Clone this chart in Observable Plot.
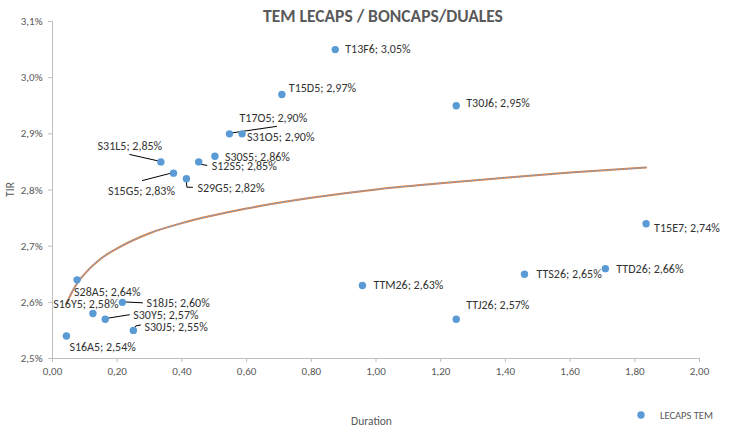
<!DOCTYPE html>
<html>
<head>
<meta charset="utf-8">
<script src="https://cdn.jsdelivr.net/npm/d3@7"></script>
<script src="https://cdn.jsdelivr.net/npm/@observablehq/plot@0.6"></script>
<style>
  html, body { margin: 0; padding: 0; background: #fff; }
  #chart svg { display: block; font-family: Carlito, Lato, "Liberation Sans", sans-serif; }
</style>
</head>
<body>
<div id="chart"></div>
<script>
// ---- data ----
const names = ["S16A5","S28A5","S16Y5","S30Y5","S18J5","S30J5","S31L5","S15G5","S29G5","S12S5","S30S5","T17O5","S31O5","T15D5","T13F6","TTM26","T30J6","TTJ26","TTS26","TTD26","T15E7"];
const durations = [0.043,0.076,0.125,0.163,0.216,0.250,0.335,0.374,0.414,0.452,0.502,0.547,0.586,0.709,0.874,0.958,1.248,1.248,1.459,1.709,1.835];
const tirs = [2.54,2.64,2.58,2.57,2.60,2.55,2.85,2.83,2.82,2.85,2.86,2.90,2.90,2.97,3.05,2.63,2.95,2.57,2.65,2.66,2.74];
// logarithmic trendline, values
const trendDur = [0.044,0.06,0.08,0.1,0.15,0.2,0.3,0.4,0.6,0.8,1.0,1.2,1.4,1.6,1.835];
const trendTir = [2.598,2.618,2.637,2.651,2.678,2.696,2.723,2.741,2.767,2.786,2.801,2.812,2.822,2.831,2.840];
const xTicks = [0,0.2,0.4,0.6,0.8,1.0,1.2,1.4,1.6,1.8,2.0];
const yTicks = [2.5,2.6,2.7,2.8,2.9,3.0,3.1];
const titleText = "TEM LECAPS / BONCAPS/DUALES";
const xLabel = "Duration";
const yLabel = "TIR";
const seriesName = "LECAPS TEM";

// ---- label layout (pixel offsets from each point) ----
const labelPlace = {
  T13F6:[10,0,"start"], T15D5:[7,-6,"start"], T30J6:[10,-3,"start"],
  T17O5:[10,-16,"start"], S31O5:[5,3,"start"], S30S5:[10,1,"start"],
  S12S5:[13,4,"start"], S31L5:[-31,-16,"middle"], S15G5:[-32,18,"middle"],
  S29G5:[11,9,"start"], S28A5:[-3,12,"start"], S16Y5:[-7,-9,"middle"],
  S18J5:[24,1,"start"], S30Y5:[28,-4,"start"], S30J5:[11,-3,"start"],
  S16A5:[3,11,"start"], TTM26:[11,0,"start"], TTJ26:[10,-14,"start"],
  TTS26:[12,0,"start"], TTD26:[11,1,"start"], T15E7:[8,4,"start"]
};
const leaders = {
  T17O5:[[0,0],[48,-7]], S12S5:[[0,0],[3,3],[9,4]], S31L5:[[0,0],[-31,-7]],
  S15G5:[[0,0],[-31,8]], S29G5:[[0,0],[1,9],[7,9]], S18J5:[[0,0],[21,1]],
  S30Y5:[[0,0],[25,-4]], S30J5:[[0,0],[3,-4],[8,-5]]
};

const rows = names.map((n,i) => ({name:n, d:durations[i], y:tirs[i]}));
const trend = trendDur.map((d,i) => ({d, y: trendTir[i]}));
const fmt2 = v => v.toFixed(2).replace(".", ",");
const fmtPct = v => v.toFixed(1).replace(".", ",") + "%";

const W = 734, H = 430;
const textColor = "#333333", axisText = "#595959", axisLine = "#BFBFBF", blue = "#5B9BD5", orange = "#ED7D31";

const labelMarks = rows.map(r => {
  const [dx, dy, anchor] = labelPlace[r.name];
  return Plot.text([r], {x:"d", y:"y", text: r => `${r.name}; ${r.y.toFixed(2).replace(".", ",")}%`,
    dx, dy, textAnchor: anchor, lineAnchor: "middle", fill: textColor, fontSize: 12});
});

function leaderMark(index, scales) {
  const g = d3.create("svg:g").attr("fill","none").attr("stroke","#000").attr("stroke-width",1);
  for (const r of rows) {
    const pts = leaders[r.name];
    if (!pts) continue;
    const px = scales.x(r.d), py = scales.y(r.y);
    g.append("path").attr("d", d3.line()(pts.map(([ox,oy]) => [px+ox, py+oy])));
  }
  return g.node();
}

function extrasMark(index, scales, values, dims) {
  const g = d3.create("svg:g");
  const cx = (dims.marginLeft + dims.width - dims.marginRight) / 2;
  const cy = (dims.marginTop + dims.height - dims.marginBottom) / 2;
  g.append("text").attr("x", 383).attr("y", 16).attr("text-anchor","middle").attr("dominant-baseline","central")
    .attr("font-size", 17.5).attr("font-weight","bold").attr("fill", axisText).text(titleText);
  g.append("text").attr("x", cx - 4).attr("y", 421).attr("text-anchor","middle").attr("dominant-baseline","central")
    .attr("font-size", 11.5).attr("fill", axisText).text(xLabel);
  g.append("text").attr("transform", `translate(10,${cy}) rotate(-90)`).attr("text-anchor","middle").attr("dominant-baseline","central")
    .attr("font-size", 11.5).attr("fill", axisText).text(yLabel);
  g.append("circle").attr("cx", 641).attr("cy", 415).attr("r", 3.7).attr("fill", blue);
  g.append("text").attr("x", 660).attr("y", 415).attr("text-anchor","start").attr("dominant-baseline","central")
    .attr("font-size", 10.5).attr("fill", axisText).text(seriesName);
  return g.node();
}

const chart = Plot.plot({
  width: W, height: H,
  marginLeft: 52, marginRight: 35, marginTop: 21, marginBottom: 72,
  style: {background: "#fff", overflow: "visible"},
  x: {domain: [0, 2]},
  y: {domain: [2.5, 3.1]},
  marks: [
    Plot.axisX({ticks: xTicks, tickFormat: fmt2, tickSize: 4, tickPadding: 5, label: null, stroke: axisLine, fill: axisText, fontSize: 11}),
    Plot.axisY({ticks: yTicks, tickFormat: fmtPct, tickSize: 4, tickPadding: 6, label: null, stroke: axisLine, fill: axisText, fontSize: 11}),
    Plot.ruleX([0], {stroke: axisLine}),
    Plot.ruleY([2.5], {stroke: axisLine}),
    Plot.line(trend, {x:"d", y:"y", stroke: orange, strokeWidth: 2, curve: "monotone-x"}),
    Plot.line(trend, {x:"d", y:"y", stroke: "#7f9fc8", strokeWidth: 1.2, strokeDasharray: "2,2", curve: "monotone-x"}),
    leaderMark,
    Plot.dot(rows, {x:"d", y:"y", r: 3.7, fill: blue, stroke: null}),
    ...labelMarks,
    extrasMark
  ]
});
document.getElementById("chart").appendChild(chart);
</script>
</body>
</html>
